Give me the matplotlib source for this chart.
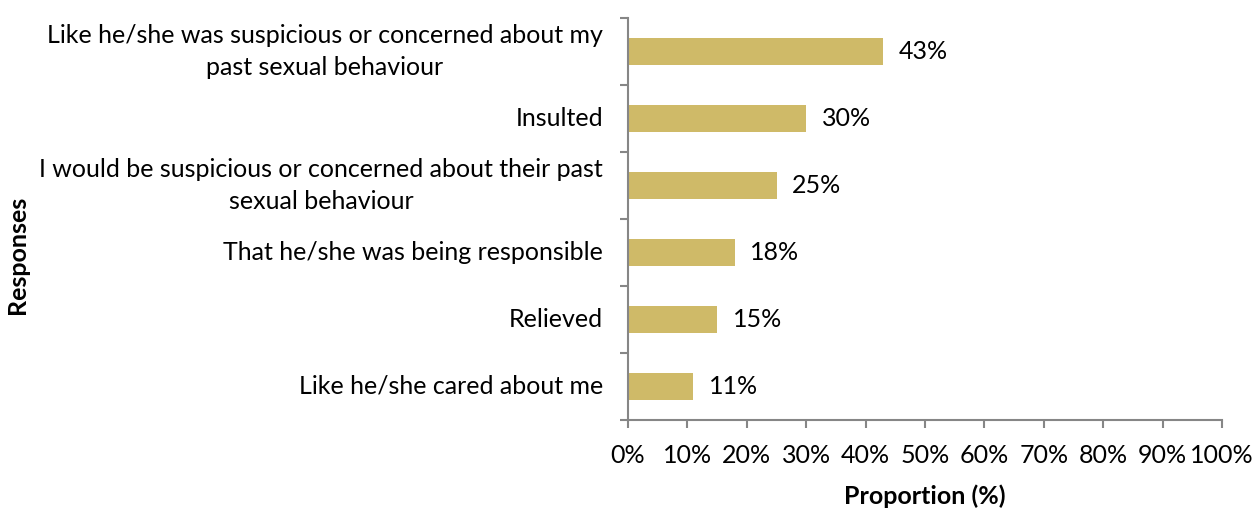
import matplotlib
matplotlib.use("Agg")
import matplotlib.pyplot as plt
from matplotlib.ticker import FixedLocator, NullFormatter

plt.rcParams['font.family'] = ['Lato', 'DejaVu Sans']

categories = [
    "Like he/she was suspicious or concerned about my\npast sexual behaviour",
    "Insulted",
    "I would be suspicious or concerned about their past\nsexual behaviour",
    "That he/she was being responsible",
    "Relieved",
    "Like he/she cared about me",
]
values = [43, 30, 25, 18, 15, 11]
xtick_values = list(range(0, 101, 10))

bar_color = "#CFBA68"
axis_color = "#868686"
fs = 18

fig = plt.figure(figsize=(12.54, 5.09), dpi=100)
ax = fig.add_axes([628 / 1254, 1 - 420 / 509, (1222 - 628) / 1254, (420 - 18) / 509])

n = len(categories)
ypos = list(range(n))[::-1]
ax.barh(ypos, values, height=0.4, color=bar_color, zorder=2)

for y, v in zip(ypos, values):
    ax.text(v + 2.6, y, f"{v}%", va="center", ha="left", fontsize=fs, color="black")

ax.set_xlim(0, 100)
ax.set_ylim(-0.5, n - 0.5)
ax.xaxis.set_major_locator(FixedLocator(xtick_values))
ax.set_xticklabels([f"{t}%" for t in xtick_values], fontsize=fs)

# category labels at bar centres, ticks on category boundaries
ax.yaxis.set_major_locator(FixedLocator([i - 0.5 for i in range(n + 1)]))
ax.yaxis.set_major_formatter(NullFormatter())
for y, c in zip(ypos, categories):
    ax.text(-25 / 594, y, c, transform=ax.get_yaxis_transform(), ha="right", va="center",
            fontsize=fs, multialignment="center", linespacing=1.45)

for s in ["top", "right"]:
    ax.spines[s].set_visible(False)
for s in ["left", "bottom"]:
    ax.spines[s].set_color(axis_color)
    ax.spines[s].set_linewidth(1.5)
ax.tick_params(axis="both", colors=axis_color, length=6, width=1.5, direction="out")
ax.tick_params(axis="x", labelcolor="black", pad=11)

ax.set_xlabel("Proportion (%)", fontsize=fs, fontweight="bold", labelpad=13)
fig.text(18 / 1254, 0.5, "Responses", rotation=90, ha="center", va="center",
         fontsize=fs, fontweight="bold")

fig.savefig("out.png", dpi=100)
